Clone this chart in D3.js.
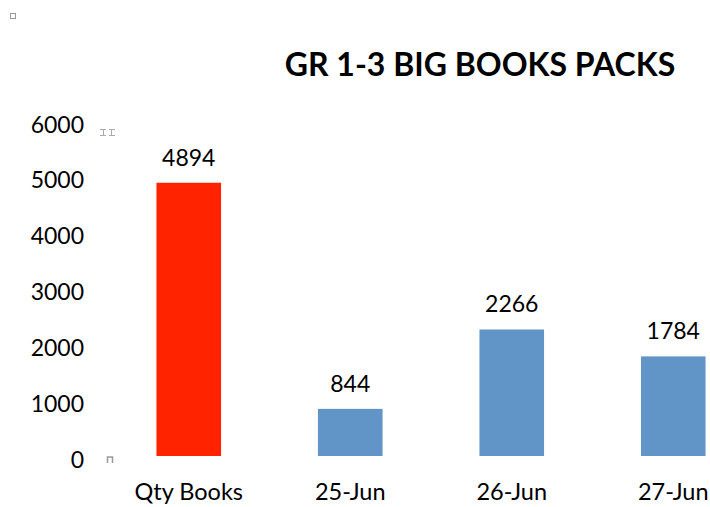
<!DOCTYPE html>
<html>
<head>
  <meta charset="UTF-8">
  <title>GR 1-3 Big Books Packs</title>
  <script src="https://cdn.jsdelivr.net/npm/d3@7"></script>
  <style>
    body { margin: 0; background: #fff; font-family: Lato, "Open Sans", sans-serif; }
  </style>
</head>
<body>
  <div id="chart"></div>
  <script>
    var categories = ["Qty Books", "25-Jun", "26-Jun", "27-Jun"];
    var values = [4894, 844, 2266, 1784];
    var barColors = ["#ff2300", "#6195c8", "#6195c8", "#6195c8"];
    var yTicks = [0, 1000, 2000, 3000, 4000, 5000, 6000];

    var width = 710, height = 507;

    var svg = d3.select('#chart')
      .append('svg')
      .attr('width', width)
      .attr('height', height);

    // step ~161.5px, first band starts at 108, chart runs off the right edge
    var x = d3.scaleBand()
      .domain(categories)
      .range([108, 108 + 161.5 * categories.length])
      .paddingInner(0.6)
      .paddingOuter(0.3);

    var y = d3.scaleLinear()
      .domain([0, 6000])
      .range([456, 121]);

    svg.append('text')
      .attr('x', 480)
      .attr('y', 76)
      .attr('text-anchor', 'middle')
      .style('font-size', '32px')
      .style('font-weight', 'bold')
      .text('GR 1-3 BIG BOOKS PACKS');

    var yAxis = svg.append('g')
      .attr('transform', 'translate(84,0)')
      .call(d3.axisLeft(y).tickValues(yTicks).tickFormat(d3.format('d')).tickSize(0).tickPadding(0));
    yAxis.select('.domain').remove();
    yAxis.selectAll('text')
      .attr('dy', '0.35em')
      .attr('y', 3)
      .style('font-family', 'Lato, "Open Sans", sans-serif')
      .style('font-size', '23px')
      .attr('fill', '#000');

    var xAxis = svg.append('g')
      .attr('transform', 'translate(0,' + 456 + ')')
      .call(d3.axisBottom(x).tickSize(0).tickPadding(0));
    xAxis.select('.domain').remove();
    xAxis.selectAll('text')
      .attr('y', 44)
      .attr('dy', 0)
      .style('font-family', 'Lato, "Open Sans", sans-serif')
      .style('font-size', '23.5px')
      .attr('fill', '#000');

    svg.selectAll('rect.bar')
      .data(values)
      .enter()
      .append('rect')
      .attr('class', 'bar')
      .attr('x', function (d, i) { return x(categories[i]); })
      .attr('width', x.bandwidth())
      .attr('y', function (d) { return y(d); })
      .attr('height', function (d) { return y(0) - y(d); })
      .attr('fill', function (d, i) { return barColors[i]; });

    svg.selectAll('text.val')
      .data(values)
      .enter()
      .append('text')
      .attr('class', 'val')
      .attr('x', function (d, i) { return x(categories[i]) + x.bandwidth() / 2; })
      .attr('y', function (d) { return y(d) - 17; })
      .attr('text-anchor', 'middle')
      .style('font-size', '23px')
      .text(function (d) { return d; });

    // little selection handles left over in the screenshot
    svg.append('rect')
      .attr('x', 10.5).attr('y', 13.5).attr('width', 5).attr('height', 5)
      .attr('fill', 'none').attr('stroke', '#999');
    svg.append('path')
      .attr('d', 'M100,129.5h6M100,135.5h6M109,129.5h6M109,135.5h6M103.5,129.5v6M111.5,129.5v6')
      .attr('stroke', '#aaa').attr('fill', 'none');
    svg.append('path')
      .attr('d', 'M107.5,463v-6h5v6')
      .attr('stroke', '#999').attr('stroke-width', 1.5).attr('fill', 'none');
  </script>
</body>
</html>
